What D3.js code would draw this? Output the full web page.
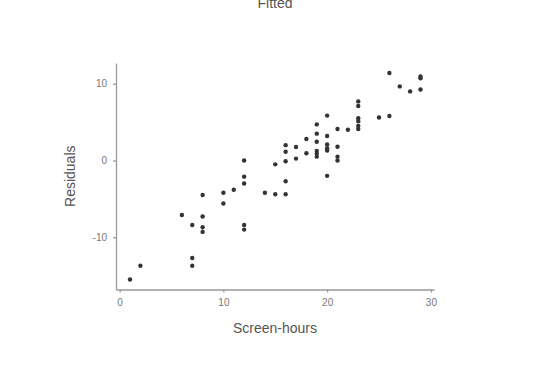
<!DOCTYPE html>
<html>
<head>
<meta charset="utf-8">
<script src="https://cdn.jsdelivr.net/npm/d3@7"></script>
<style>
  body { margin: 0; background: #fff; }
  svg { display: block; font-family: "Liberation Sans", Arial, sans-serif; }
</style>
</head>
<body>
<div id="chart"></div>
<script>
// screen-hours vs residuals
const screenHours = [
  1, 2, 6, 7, 7, 7, 8, 8, 8, 8,
  10, 10, 11, 12, 12, 12, 12, 12, 14, 15,
  15, 16, 16, 16, 16, 16, 17, 17, 18, 18,
  19, 19, 19, 19, 19, 19, 20, 20, 20, 20,
  20, 20, 21, 21, 21, 21, 22, 23, 23, 23,
  23, 23, 23, 25, 26, 26, 27, 28, 29, 29,
  29,
];
const residuals = [
  -15.5, -13.7, -7.1, -8.4, -12.7, -13.7, -4.5, -7.3, -8.7, -9.3,
  -4.2, -5.6, -3.8, 0.0, -2.1, -3.0, -8.4, -9.0, -4.2, -4.4,
  -0.5, -4.4, -2.7, -0.1, 1.15, 2.0, 1.75, 0.25, 2.8, 0.95,
  4.7, 3.5, 2.45, 1.25, 0.9, 0.5, 5.85, 3.2, 2.1, 1.6,
  1.3, -2.0, 4.1, 1.8, 0.5, 0.0, 4.0, 7.7, 7.1, 5.5,
  5.1, 4.5, 4.1, 5.6, 5.8, 11.4, 9.65, 9.0, 10.95, 10.7,
  9.25,
];
const xTicks = [0, 10, 20, 30];
const yTicks = [-10, 0, 10];

const width = 551, height = 365;
const axisColor = "#999";
const textColor = "#777";

const svg = d3.select("#chart").append("svg")
  .attr("width", width)
  .attr("height", height);

const x = d3.scaleLinear().domain([-0.35, 30.3]).range([116, 434]);
const y = d3.scaleLinear().domain([-16.8, 12.7]).range([289.5, 63]);

const fmt = (d) => String(d); // plain hyphen minus like the original

// x axis
const gx = svg.append("g")
  .attr("transform", `translate(0, ${y(-16.8)})`)
  .call(d3.axisBottom(x).tickValues(xTicks).tickFormat(fmt)
    .tickSize(3).tickPadding(6).tickSizeOuter(0));

// y axis
const gy = svg.append("g")
  .attr("transform", `translate(${x(-0.35)}, 0)`)
  .call(d3.axisLeft(y).tickValues(yTicks).tickFormat(fmt)
    .tickSize(3).tickPadding(6).tickSizeOuter(0));

[gx, gy].forEach((g) => {
  g.select(".domain").attr("stroke", axisColor).attr("stroke-width", 1.3);
  g.selectAll(".tick line").attr("stroke", axisColor).attr("stroke-width", 1.3);
  g.selectAll(".tick text")
    .attr("fill", textColor)
    .style("font-size", "10px");
});

// points
svg.append("g")
  .selectAll("circle")
  .data(screenHours.map((h, i) => ({ h, r: residuals[i] })))
  .join("circle")
  .attr("cx", (d) => x(d.h))
  .attr("cy", (d) => y(d.r))
  .attr("r", 2.2)
  .attr("fill", "#333");

// axis titles
svg.append("text")
  .attr("x", (x.range()[0] + x.range()[1]) / 2)
  .attr("y", 333)
  .attr("text-anchor", "middle")
  .attr("fill", "#555")
  .style("font-size", "14px")
  .text("Screen-hours");

svg.append("text")
  .attr("transform", `translate(75, ${(y.range()[0] + y.range()[1]) / 2}) rotate(-90)`)
  .attr("text-anchor", "middle")
  .attr("fill", "#555")
  .style("font-size", "14px")
  .text("Residuals");

// plot title, cut off at the top edge as in the original
svg.append("text")
  .attr("x", 275)
  .attr("y", 8)
  .attr("text-anchor", "middle")
  .attr("fill", "#555")
  .style("font-size", "14px")
  .text("Fitted");
</script>
</body>
</html>
